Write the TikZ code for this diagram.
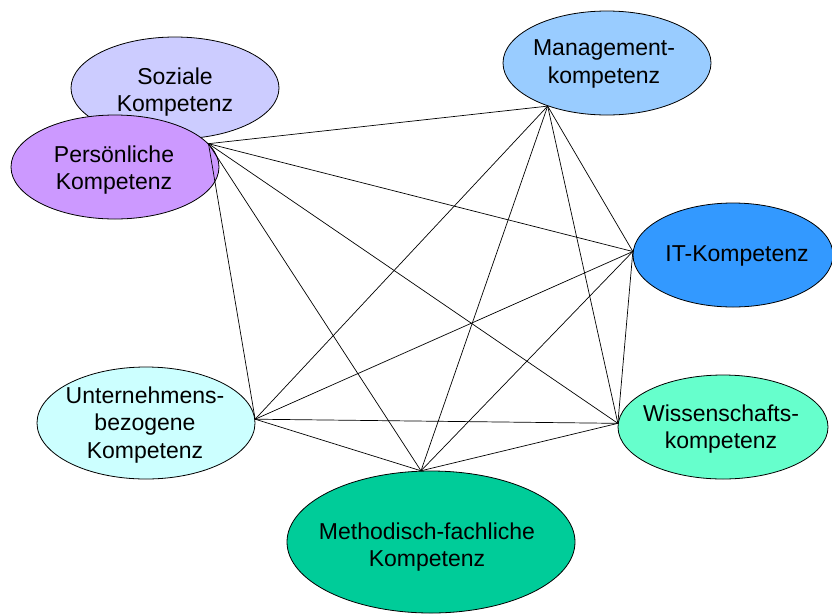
\documentclass[tikz,border=0pt]{standalone}
\usepackage{fontspec}
\setmainfont{Liberation Sans}
\usetikzlibrary{shapes.geometric}
\definecolor{cSoz}{HTML}{CCCCFF}
\definecolor{cPer}{HTML}{CC99FF}
\definecolor{cMan}{HTML}{99CCFF}
\definecolor{cIT}{HTML}{3399FF}
\definecolor{cWis}{HTML}{66FFCC}
\definecolor{cMet}{HTML}{00CC99}
\definecolor{cUnt}{HTML}{CCFFFF}
\begin{document}
\begin{tikzpicture}[x=1pt,y=-1pt,
  komp/.style={ellipse,draw=black,line width=0.8pt,inner sep=0pt},
  ktext/.style={inner sep=0pt,align=center,font=\fontsize{23}{27.5}\selectfont},
  link/.style={draw=black,line width=0.7pt}]
\useasboundingbox (0,0) rectangle (832,614);
\node[komp,fill=cSoz,minimum width=208pt,minimum height=102pt] (soz) at (175,88) {};
\node[ktext] (sozt) at (175,92) {Soziale\\Kompetenz};
\node[komp,fill=cPer,minimum width=208pt,minimum height=104pt] (per) at (115,167) {};
\node[ktext] (pert) at (114,170) {Persönliche\\Kompetenz};
\node[komp,fill=cMan,minimum width=208pt,minimum height=104pt] (man) at (607,63) {};
\node[ktext] (mant) at (604,64) {Management-\\kompetenz};
\node[komp,fill=cIT,minimum width=200pt,minimum height=104pt] (it) at (733,255) {};
\node[ktext] (itt) at (737,256) {IT-Kompetenz};
\node[komp,fill=cWis,minimum width=210pt,minimum height=104pt] (wis) at (723,427) {};
\node[ktext] (wist) at (721,429) {Wissenschafts-\\kompetenz};
\node[komp,fill=cUnt,minimum width=218pt,minimum height=112pt] (unt) at (146,423) {};
\node[ktext] (untt) at (145,425) {Unternehmens-\\bezogene\\Kompetenz};
\node[komp,fill=cMet,minimum width=288pt,minimum height=142pt] (met) at (431,542) {};
\node[ktext] (mett) at (427,547) {Methodisch-fachliche\\Kompetenz};
\coordinate (pP) at (per.14);
\coordinate (pM) at (man.216);
\coordinate (pI) at (it.178);
\coordinate (pW) at (wis.178);
\coordinate (pT) at (met.98);
\coordinate (pU) at (unt.2);
\foreach \a/\b in {pP/pM,pP/pI,pP/pW,pP/pT,pP/pU,
                   pM/pI,pM/pW,pM/pT,pM/pU,
                   pI/pW,pI/pT,pI/pU,
                   pW/pT,pW/pU,
                   pT/pU}
  \draw[link] (\a) -- (\b);
\end{tikzpicture}
\end{document}
